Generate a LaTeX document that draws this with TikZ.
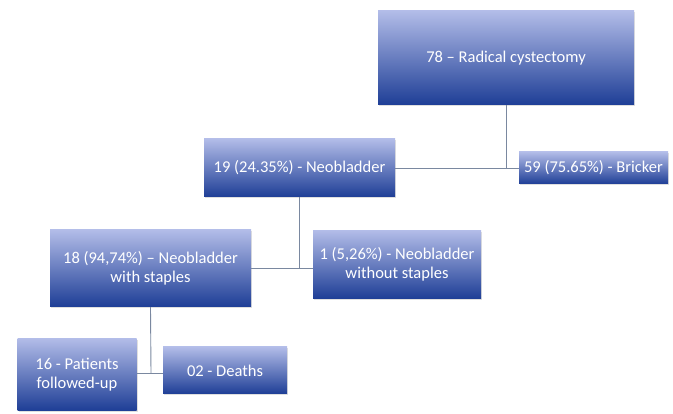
\documentclass[tikz,border=0pt]{standalone}
\usepackage{fontspec}
\setmainfont{Carlito}
\usetikzlibrary{shadows}
\definecolor{boxtop}{RGB}{178,188,232}
\definecolor{boxmid}{RGB}{88,112,196}
\definecolor{boxbot}{RGB}{30,62,150}
\definecolor{linkgray}{RGB}{122,136,160}
\begin{document}
\begin{tikzpicture}[x=1pt, y=-1pt,
  box/.style={rectangle, top color=boxtop, middle color=boxmid, bottom color=boxbot,
    draw=none, drop shadow={shadow xshift=1pt, shadow yshift=-1.5pt, opacity=0.25},
    align=center, text=white, font=\fontsize{16.5}{19}\selectfont, inner sep=2pt},
  link/.style={draw=linkgray, line width=0.9pt}
]
\useasboundingbox (0,0) rectangle (673,414);
% top level
\node[box, minimum width=256pt, minimum height=94pt] (rc) at (506,58) {78 -- Radical cystectomy};
\node[box, minimum width=191pt, minimum height=58pt] (neo) at (299.5,168) {19 (24.35\%) - Neobladder};
\node[box, minimum width=149pt, minimum height=32pt] (bri) at (593.5,168) {59 (75.65\%) - Bricker};
% neobladder split
\node[box, minimum width=201pt, minimum height=77pt] (stp) at (150.5,268.5) {18 (94,74\%) -- Neobladder\\with staples};
\node[box, minimum width=168pt, minimum height=68pt] (nst) at (397,264.5) {1 (5,26\%) - Neobladder\\without staples};
% follow-up
\node[box, minimum width=119pt, minimum height=72pt] (fol) at (77,374.5) {16 - Patients\\followed-up};
\node[box, minimum width=124pt, minimum height=47pt] (dth) at (225,370.5) {02 - Deaths};
\coordinate (j3) at (151,373);
% connectors
\draw[link] (rc.south) -- (rc.south |- bri.west);
\draw[link] (neo.east) -- (bri.west);
\draw[link] (neo.south) -- (neo.south |- stp.east);
\draw[link] (stp.east) -- (nst.west |- stp.east);
\draw[link] (stp.south) -- (j3);
\draw[link] (fol.east |- j3) -- (dth.west |- j3);
\end{tikzpicture}
\end{document}
